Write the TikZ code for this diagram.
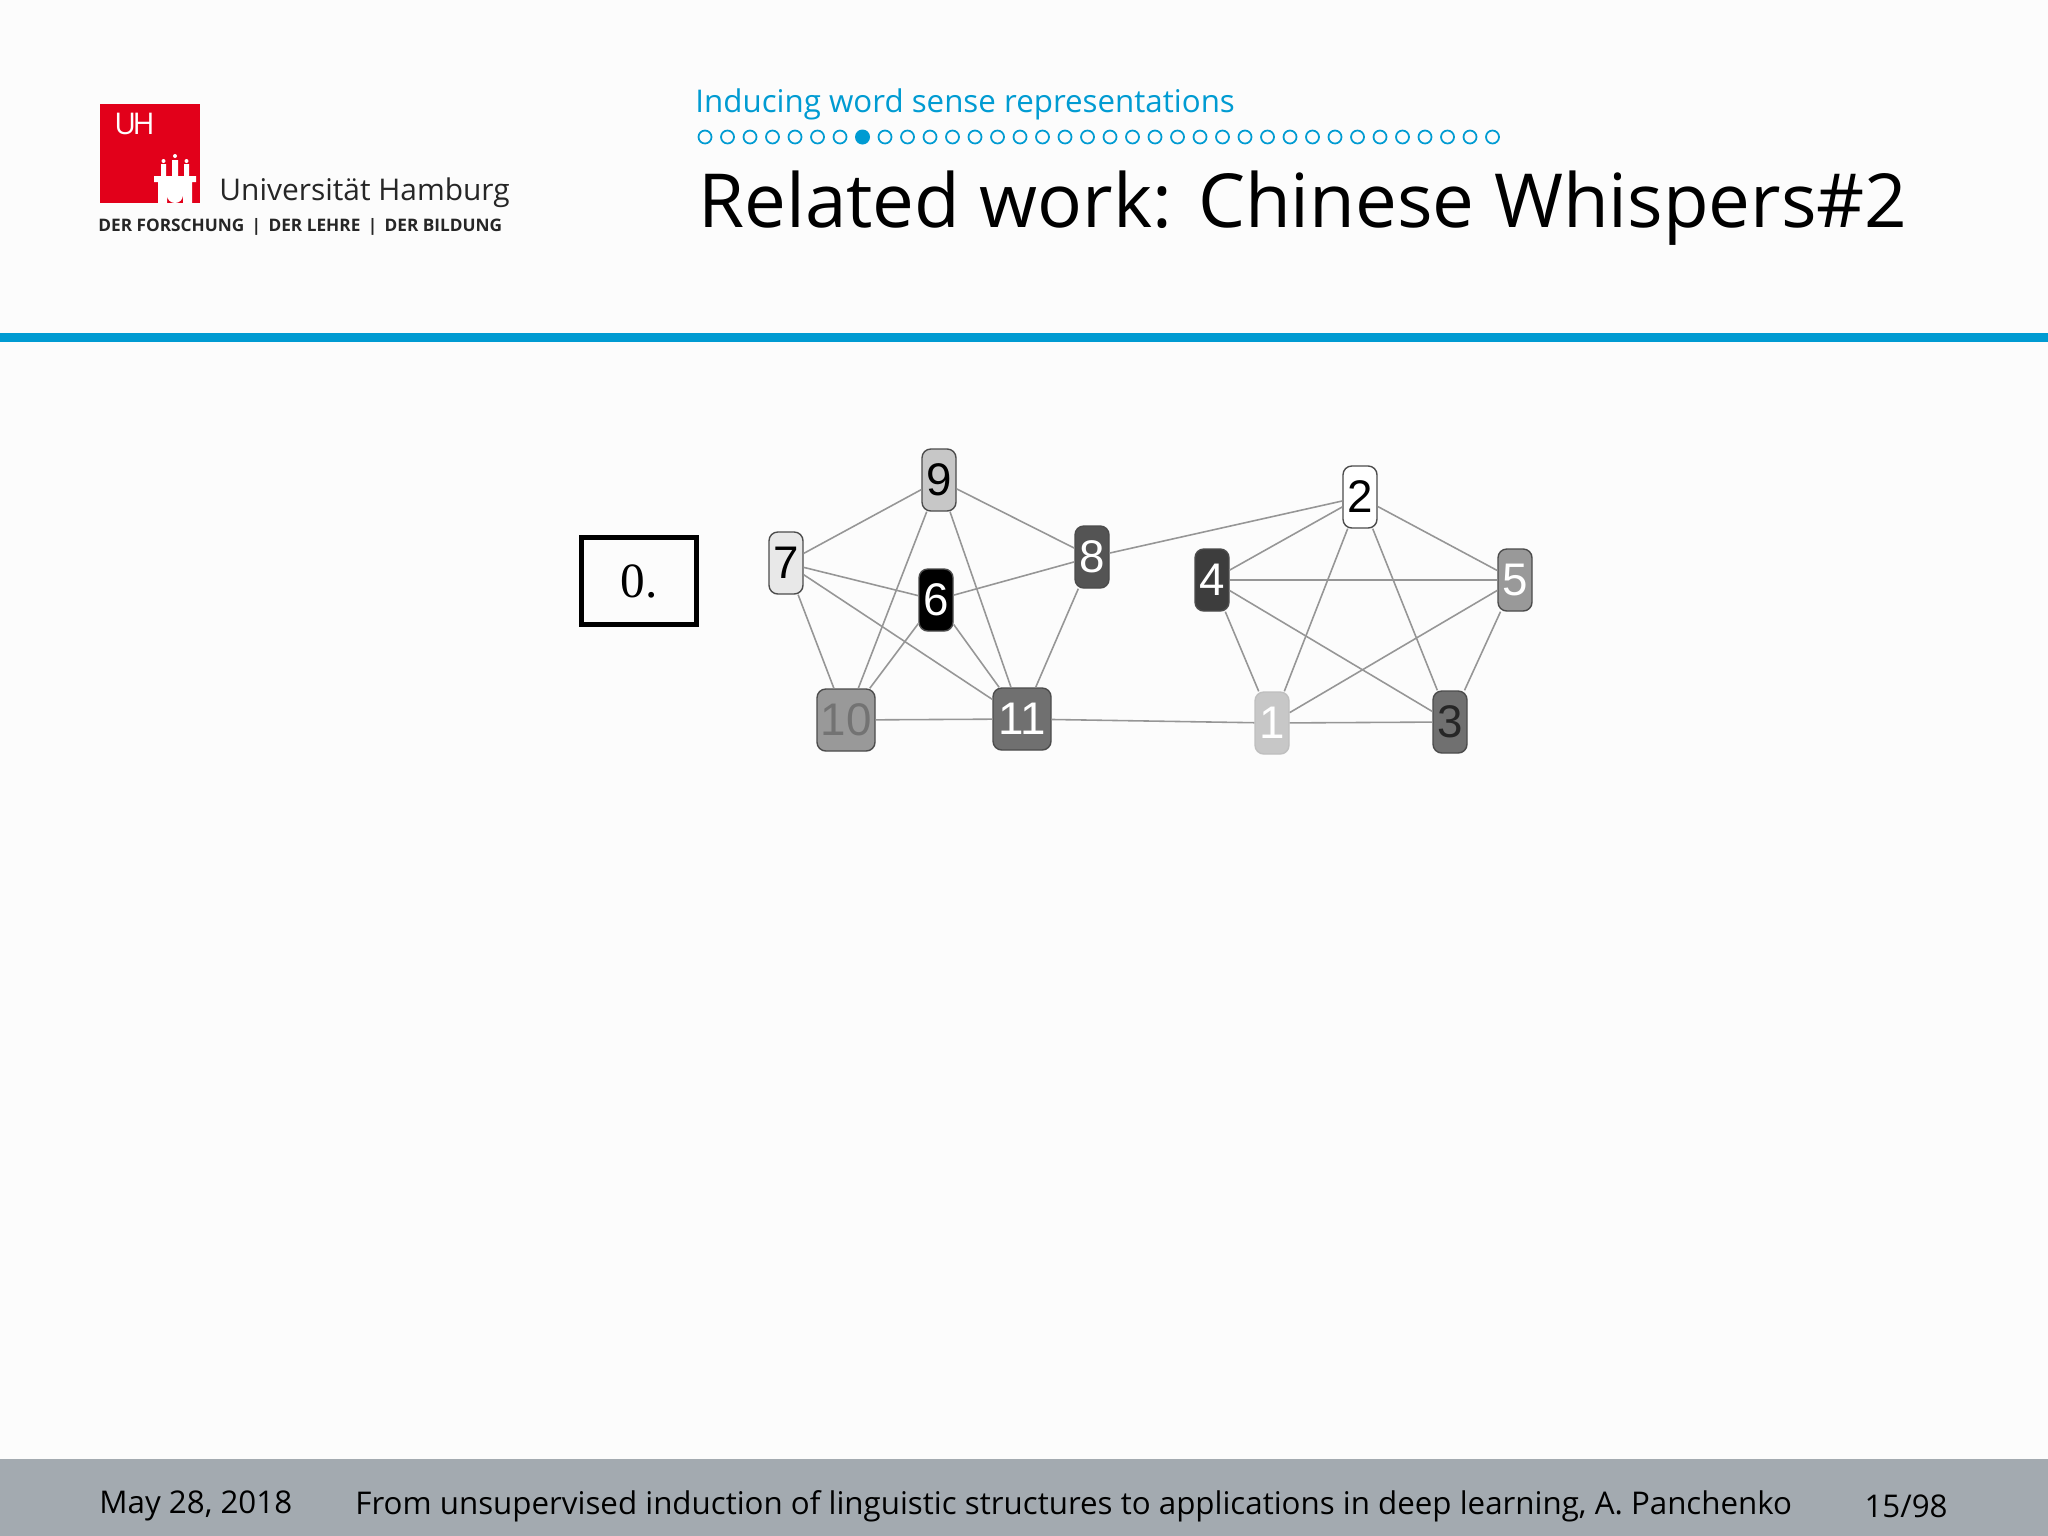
\documentclass[tikz,border=0pt]{standalone}
\usepackage{fontspec}
\setmainfont{Open Sans}
\newfontfamily\helv{Liberation Sans}
\newfontfamily\serf{Liberation Serif}
\definecolor{uhblue}{RGB}{0,155,210}
\definecolor{uhred}{RGB}{226,0,26}
\definecolor{footgray}{RGB}{163,170,176}
\definecolor{edgegray}{RGB}{150,150,150}
\begin{document}
\begin{tikzpicture}[x=0.01cm,y=-0.01cm,
  gn/.style={draw=black!70,rounded corners=2.5pt,minimum width=34*0.01cm,minimum height=62*0.01cm,inner sep=0pt,font=\helv\fontsize{13}{13}\selectfont},
  wide/.style={minimum width=58*0.01cm},
  ed/.style={edgegray,line width=0.45pt}]
\useasboundingbox (0,0) rectangle (2048,1536);
\fill[white!99!black] (0,0) rectangle (2048,1536);
% header
\fill[uhred] (100,104) rectangle (200,203);
\node[white,font=\fontsize{8.5}{9}\selectfont,anchor=west] (uh) at (102,124) {U\kern-1pt H};
% castle
\fill[white] (158,203) -- (158,182) -- (154,182) -- (154,176) -- (196,176) -- (196,182) -- (192,182) -- (192,203) -- (183,203) -- (183,195) arc (0:180:8) -- (167,203) -- cycle;
\fill[white] (161,176) rectangle (166,164) (172,176) rectangle (178,160) (184,176) rectangle (189,164);
\fill[white] (163.5,161) circle (2) (175,156) circle (2) (186.5,161) circle (2);
\node[anchor=west,font=\fontsize{8.5}{9}\selectfont,text=black!85] (uni) at (207,193) {Universität Hamburg};
\node[anchor=west,font=\fontsize{4.9}{6}\selectfont\bfseries,text=black!85] (motto) at (86,227) {DER FORSCHUNG \,|\, DER LEHRE \,|\, DER BILDUNG};
\node[anchor=west,font=\fontsize{8.9}{10}\selectfont,text=uhblue] (sec) at (683,104) {Inducing word sense representations};
\foreach \i in {0,...,35}{
  \ifnum\i=7 \fill[uhblue] (705+\i*22.5,137) circle (7.5);
  \else \draw[uhblue,line width=0.5pt] (705+\i*22.5,137) circle (6.5); \fi}
\node[anchor=west,font=\fontsize{21.2}{23}\selectfont] (title) at (686,208) {Related work: Chinese Whispers\#2};
\fill[uhblue] (0,333) rectangle (2048,342);
% footer
\fill[footgray] (0,1459) rectangle (2048,1536);
\node[anchor=west,font=\fontsize{8.9}{10}\selectfont] (date) at (87,1506) {May 28, 2018};
\node[anchor=west,font=\fontsize{8.9}{10}\selectfont] (ft) at (343,1506) {From unsupervised induction of linguistic structures to applications in deep learning, A. Panchenko};
\node[anchor=east,font=\fontsize{8.9}{10}\selectfont] (pg) at (1960,1506) {15/98};
% box 0.
\node[draw,line width=1.2pt,minimum width=115*0.01cm,minimum height=87*0.01cm,font=\serf\fontsize{14}{14}\selectfont] (zero) at (639,581) {0.};
% graph nodes
\node[gn,fill=black!22] (n9) at (939,480) {9};
\node[gn,fill=black!9] (n7) at (786,563) {7};
\node[gn,fill=black,text=white] (n6) at (936,600) {6};
\node[gn,fill=black!67,text=white] (n8) at (1092,557) {8};
\node[gn,wide,fill=black!40,text=black!55] (n10) at (846,720) {10};
\node[gn,wide,fill=black!56,text=white] (n11) at (1022,719) {11};
\node[gn,fill=white] (n2) at (1360,497) {2};
\node[gn,fill=black!76,text=white] (n4) at (1212,580) {4};
\node[gn,fill=black!40,text=white] (n5) at (1515,580) {5};
\node[gn,fill=black!22,draw=black!25,text=white] (n1) at (1272,723) {1};
\node[gn,fill=black!56,text=black!85] (n3) at (1450,722) {3};
\foreach \a/\b in {n7/n9,n7/n6,n7/n10,n7/n11,n9/n10,n9/n11,n9/n8,n6/n8,n6/n10,n6/n11,n8/n11,n10/n11,n11/n1,n8/n2,n2/n4,n2/n5,n2/n1,n2/n3,n4/n5,n4/n1,n4/n3,n5/n1,n5/n3,n1/n3}
  \draw[ed] (\a) -- (\b);
\end{tikzpicture}
\end{document}
